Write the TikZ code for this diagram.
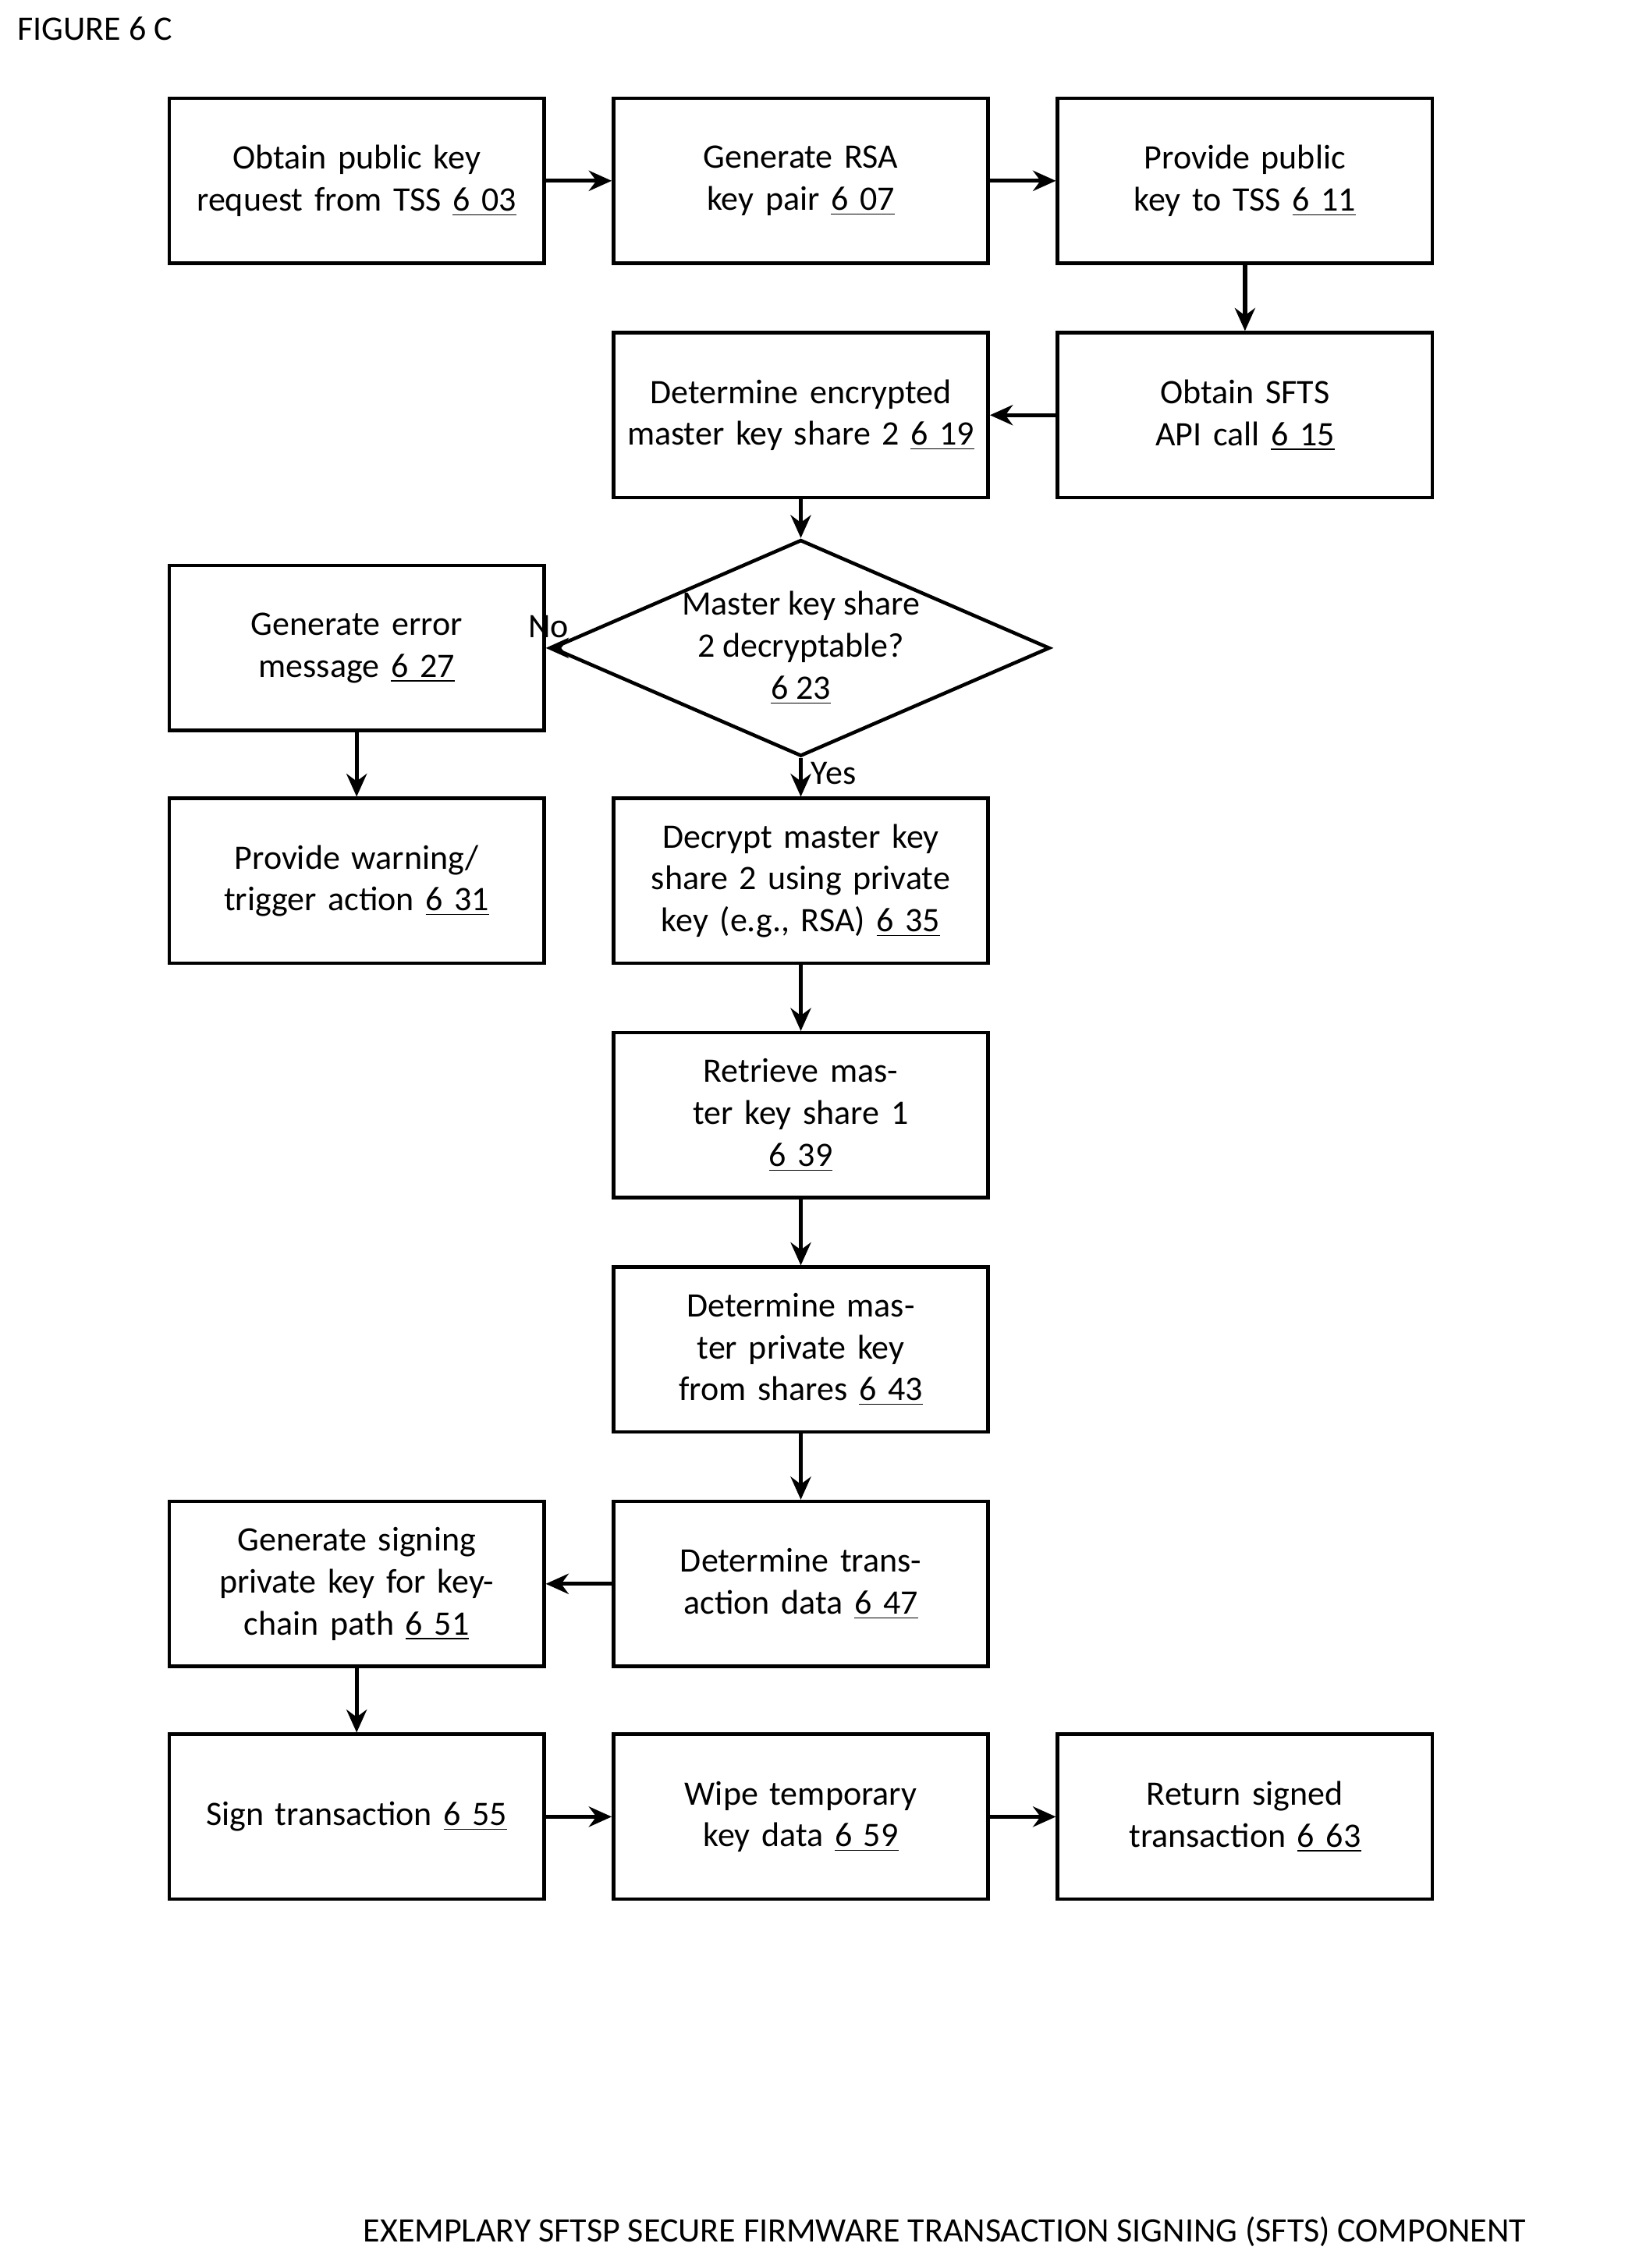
\documentclass[tikz,border=0pt]{standalone}
\usepackage{fontspec}
\setmainfont{Carlito}
\usetikzlibrary{shapes.geometric,arrows.meta,positioning}
\tikzset{
  box/.style={draw, line width=1.4pt, minimum width=5.18cm, minimum height=2.28cm,
    align=center, text width=4.9cm, font=\fontsize{13.5}{16.5}\selectfont},
  dec/.style={draw, diamond, line width=1.4pt, minimum width=5.18cm, minimum height=2.26cm,
    aspect=2.3, inner sep=0pt, align=center, font=\fontsize{13.5}{16.5}\selectfont},
  flow/.style={-{Stealth[length=9pt,width=8pt]}, line width=1.6pt},
  lbl/.style={font=\fontsize{13.5}{16.5}\selectfont}
}
\begin{document}
\begin{tikzpicture}[x=0.02cm,y=-0.02cm]
    \useasboundingbox (0,0) rectangle (1123,1568);
    % Title and caption
    \node[lbl, anchor=west] (title) at (6,20) {FIGURE 6 C};
    \node[lbl] (caption) at (653,1543) {EXEMPLARY SFTSP SECURE FIRMWARE TRANSACTION SIGNING (SFTS) COMPONENT};

    % Boxes
    \node[box] (req) at (246.5,125) {Obtain public key request from TSS \underline{6 03}};
    \node[box] (gen) at (553.5,125) {Generate RSA key pair \underline{6 07}};
    \node[box] (prov) at (860.5,125) {Provide public key to TSS \underline{6 11}};
    \node[box] (api) at (860.5,287) {Obtain SFTS API call \underline{6 15}};
    \node[box] (enc) at (553.5,287) {Determine encrypted master key share 2 \underline{6 19}};
    \node[dec] (dcp) at (553.5,448) {Master key share\\2 decryptable?\\\underline{6 23}};
    \node[box] (err) at (246.5,448) {Generate error message \underline{6 27}};
    \node[box] (warn) at (246.5,609) {Provide warning/ trigger action \underline{6 31}};
    \node[box] (dec2) at (553.5,609) {Decrypt master key share 2 using private key (e.g., RSA) \underline{6 35}};
    \node[box] (ret) at (553.5,771) {Retrieve master key share 1\\\underline{6 39}};
    \node[box] (mpk) at (553.5,933) {Determine master private key from shares \underline{6 43}};
    \node[box] (tx) at (553.5,1095) {Determine transaction data \underline{6 47}};
    \node[box] (sig) at (246.5,1095) {Generate signing private key for keychain path \underline{6 51}};
    \node[box] (sign) at (246.5,1256) {Sign transaction \underline{6 55}};
    \node[box] (wipe) at (553.5,1256) {Wipe temporary key data \underline{6 59}};
    \node[box] (done) at (860.5,1256) {Return signed transaction \underline{6 63}};

    % Connectors
    \draw[flow] (req) -- (gen);
    \draw[flow] (gen) -- (prov);
    \draw[flow] (prov) -- (api);
    \draw[flow] (api) -- (enc);
    \draw[flow] (enc) -- (dcp);
    \draw[flow] (dcp) -- node[lbl, above, pos=0.35] {No} (err);
    \draw[flow] (dcp) -- node[lbl, right, pos=0.4] {Yes} (dec2);
    \draw[flow] (err) -- (warn);
    \draw[flow] (dec2) -- (ret);
    \draw[flow] (ret) -- (mpk);
    \draw[flow] (mpk) -- (tx);
    \draw[flow] (tx) -- (sig);
    \draw[flow] (sig) -- (sign);
    \draw[flow] (sign) -- (wipe);
    \draw[flow] (wipe) -- (done);
\end{tikzpicture}
\end{document}
